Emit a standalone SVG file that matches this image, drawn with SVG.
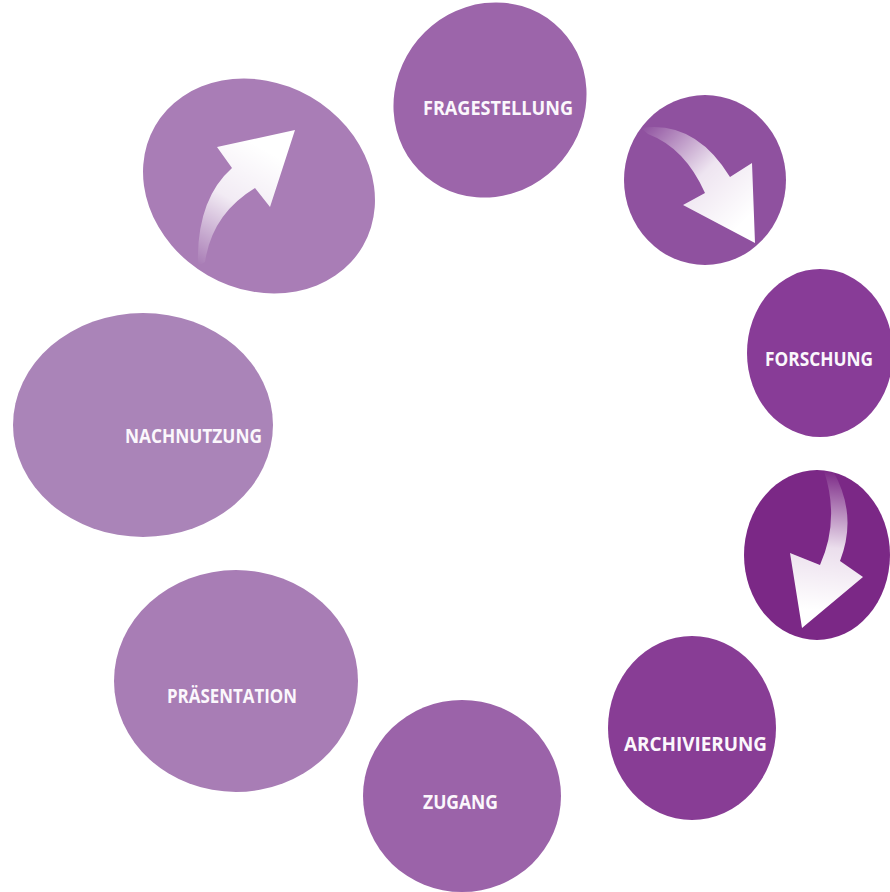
<svg xmlns="http://www.w3.org/2000/svg" width="890" height="892" viewBox="0 0 890 892">
<defs>
<style>
.lbl{font-family:"Open Sans","Noto Sans","Liberation Sans",sans-serif;font-weight:700;font-size:20px;fill:#fbf7fc;}
</style>
<linearGradient id="g1" gradientUnits="userSpaceOnUse" x1="200" y1="265" x2="265" y2="150">
<stop offset="0" stop-color="#ffffff" stop-opacity="0"/>
<stop offset="0.55" stop-color="#ffffff" stop-opacity="0.85"/>
<stop offset="1" stop-color="#ffffff" stop-opacity="1"/>
</linearGradient>
<linearGradient id="g2" gradientUnits="userSpaceOnUse" x1="642" y1="128" x2="740" y2="225">
<stop offset="0" stop-color="#ffffff" stop-opacity="0"/>
<stop offset="0.55" stop-color="#ffffff" stop-opacity="0.85"/>
<stop offset="1" stop-color="#ffffff" stop-opacity="1"/>
</linearGradient>
<linearGradient id="g3" gradientUnits="userSpaceOnUse" x1="828" y1="470" x2="815" y2="610">
<stop offset="0" stop-color="#ffffff" stop-opacity="0"/>
<stop offset="0.55" stop-color="#ffffff" stop-opacity="0.85"/>
<stop offset="1" stop-color="#ffffff" stop-opacity="1"/>
</linearGradient>
</defs>
<rect width="890" height="892" fill="#ffffff"/>
<g id="node-arrow-up">
<ellipse cx="259" cy="186" rx="120" ry="103" transform="rotate(30 259 186)" fill="#a97db6"/>
<path d="M198,266 Q196,200 232,168 L217,147 L295,130 L270,207 L255,188 Q212,214 205,262 Z" fill="url(#g1)"/>
</g>
<g id="node-fragestellung">
<ellipse cx="490" cy="100" rx="100" ry="94" transform="rotate(-50 490 100)" fill="#9c65aa"/>
<text class="lbl" x="423" y="115" textLength="150" lengthAdjust="spacingAndGlyphs">FRAGESTELLUNG</text>
</g>
<g id="node-arrow-down1">
<ellipse cx="705" cy="180" rx="81" ry="85" fill="#8f519f"/>
<path d="M641,128 Q695,120 730,177 L752,163 L755,243 L683,205 L705,193 Q685,148 648,134 Z" fill="url(#g2)"/>
</g>
<g id="node-forschung">
<ellipse cx="820" cy="353" rx="73" ry="84" fill="#883c97"/>
<text class="lbl" x="765" y="366" textLength="108" lengthAdjust="spacingAndGlyphs">FORSCHUNG</text>
</g>
<g id="node-arrow-down2">
<ellipse cx="817" cy="555" rx="73" ry="85" fill="#7b2886"/>
<path d="M824,471 Q840,520 820,565 L790,553 L802,628 L863,577 L840,561 Q858,515 833,471 Z" fill="url(#g3)"/>
</g>
<g id="node-archivierung">
<ellipse cx="692" cy="728" rx="84" ry="92" fill="#883d95"/>
<text class="lbl" x="624" y="751" textLength="143" lengthAdjust="spacingAndGlyphs">ARCHIVIERUNG</text>
</g>
<g id="node-zugang">
<ellipse cx="462" cy="796" rx="99" ry="96" fill="#9b63a9"/>
<text class="lbl" x="423" y="809" textLength="75" lengthAdjust="spacingAndGlyphs">ZUGANG</text>
</g>
<g id="node-praesentation">
<ellipse cx="236" cy="681" rx="122" ry="111" fill="#a87db5"/>
<text class="lbl" x="167" y="703" textLength="130" lengthAdjust="spacingAndGlyphs">PRÄSENTATION</text>
</g>
<g id="node-nachnutzung">
<ellipse cx="143" cy="425" rx="130" ry="112" fill="#aa84b8"/>
<text class="lbl" x="125" y="443" textLength="137" lengthAdjust="spacingAndGlyphs">NACHNUTZUNG</text>
</g>
<g id="connectors"></g>
</svg>
